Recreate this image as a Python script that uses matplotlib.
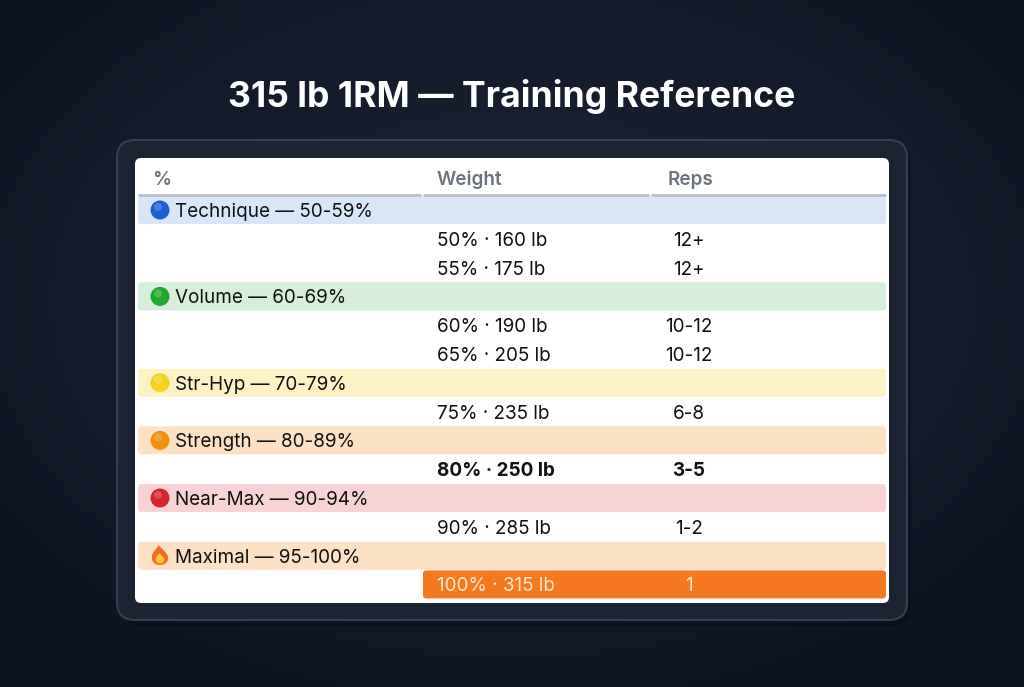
import numpy as np
import matplotlib
matplotlib.use("Agg")
import matplotlib.pyplot as plt
from matplotlib.patches import FancyBboxPatch, Circle, PathPatch
from matplotlib.path import Path

plt.rcParams['font.family'] = ['Inter', 'DejaVu Sans']

# ---- data ----
title = "315 lb 1RM \u2014 Training Reference"
headers = ["%", "Weight", "Reps"]

group_names = ["Technique", "Volume", "Str-Hyp", "Strength", "Near-Max", "Maximal"]
group_ranges = ["50-59%", "60-69%", "70-79%", "80-89%", "90-94%", "95-100%"]
group_icon = ["#1f5fd6", "#22a82b", "#f6d21c", "#f0900f", "#d8232a", "fire"]
group_band = ["#d8e6f8", "#d7efda", "#fdf2c6", "#fde1c4", "#f8d3d5", "#fde1c4"]

row_group = [0, 0, 1, 1, 2, 3, 4, 5]
row_pct = [50, 55, 60, 65, 75, 80, 90, 100]
row_lb = [160, 175, 190, 205, 235, 250, 285, 315]
row_reps = ["12+", "12+", "10-12", "10-12", "6-8", "3-5", "1-2", "1"]
bold_pct = 80
highlight_pct = 100

W, H = 1024, 687
fig = plt.figure(figsize=(W / 100, H / 100), dpi=100)
ax = fig.add_axes([0, 0, 1, 1])
ax.set_xlim(0, W)
ax.set_ylim(H, 0)
ax.axis('off')

# background: soft radial glow
yy, xx = np.mgrid[0:H, 0:W]
d = np.sqrt(((xx - 512) / 620.0) ** 2 + ((yy - 300) / 420.0) ** 2)
d = np.clip(d, 0, 1)
c_in = np.array([0x1e, 0x28, 0x3a]) / 255.0
c_out = np.array([0x0e, 0x14, 0x22]) / 255.0
bg = c_in[None, None, :] * (1 - d[..., None]) + c_out[None, None, :] * d[..., None]
ax.imshow(bg, extent=(0, W, H, 0), zorder=0, aspect='auto')

ax.text(512, 97, title, ha='center', va='center', color='white',
        fontsize=25.6, fontweight='bold', zorder=5)

# outer panel + shadow
ax.add_patch(FancyBboxPatch((121, 146), 790, 480, boxstyle="round,pad=0,rounding_size=20",
                            facecolor='#070b14', edgecolor='none', alpha=0.45, zorder=1))
ax.add_patch(FancyBboxPatch((117, 140), 790, 480, boxstyle="round,pad=0,rounding_size=18",
                            facecolor='#1c2433', edgecolor='#34404f', linewidth=1.5, zorder=2))
# white card
ax.add_patch(FancyBboxPatch((135, 158), 754, 445, boxstyle="round,pad=0,rounding_size=6",
                            facecolor='white', edgecolor='none', zorder=3))

fs = 13.6
col_x = [152, 437, 689]
head_y = 178
ax.text(col_x[0], head_y, headers[0], ha='left', va='center_baseline', color='#6b7280',
        fontsize=fs, fontweight='semibold', zorder=6)
ax.text(col_x[1], head_y, headers[1], ha='left', va='center_baseline', color='#6b7280',
        fontsize=fs, fontweight='semibold', zorder=6)
ax.text(668, head_y, headers[2], ha='left', va='center_baseline', color='#6b7280',
        fontsize=fs, fontweight='semibold', zorder=6)
for x0, x1 in [(138, 421), (423, 649), (651, 886)]:
    ax.plot([x0, x1], [194.5, 194.5], color='#b9bfc8', linewidth=2, zorder=6,
            solid_capstyle='butt')


def flame(cx, cy, s, color, z):
    v = [(0, 10), (-7, 10), (-10, 4), (-8, -1),
         (-7, -5), (-3, -7), (-2, -11),
         (2, -8), (6, -4), (8, 0),
         (10, 5), (6, 10), (0, 10)]
    v = [(cx + a * s, cy + b * s) for a, b in v]
    codes = [Path.MOVETO] + [Path.CURVE4] * 12
    ax.add_patch(PathPatch(Path(v, codes), facecolor=color, edgecolor='none', zorder=z))


step = 28.8
y0 = 210
line = 0
for g in range(len(group_names)):
    yc = y0 + line * step
    ax.add_patch(FancyBboxPatch((138, yc - 14), 748, 28, boxstyle="round,pad=0,rounding_size=3",
                                facecolor=group_band[g], edgecolor='none', zorder=4))
    if group_icon[g] == "fire":
        flame(160, yc, 0.95, '#f2701c', 7)
        flame(160, yc + 3, 0.5, '#fbc43a', 8)
    else:
        ax.add_patch(Circle((160, yc), 9.5, facecolor=group_icon[g], edgecolor='none', zorder=7))
        ax.add_patch(Circle((158, yc - 3), 4, facecolor='white', alpha=0.2,
                            edgecolor='none', zorder=8))
    ax.text(175, yc, f"{group_names[g]} \u2014 {group_ranges[g]}", ha='left',
            va='center_baseline', color='#111111', fontsize=fs, zorder=9)
    line += 1
    for i in range(len(row_pct)):
        if row_group[i] != g:
            continue
        yc = y0 + line * step
        color = '#111111'
        weight = 'normal'
        if row_pct[i] == highlight_pct:
            ax.add_patch(FancyBboxPatch((423, yc - 14), 463, 28,
                                        boxstyle="round,pad=0,rounding_size=3",
                                        facecolor='#f4791f', edgecolor='none', zorder=4))
            color = '#fde6d2'
        if row_pct[i] == bold_pct:
            weight = 'bold'
        ax.text(col_x[1], yc, f"{row_pct[i]}% \u00b7 {row_lb[i]} lb", ha='left',
                va='center_baseline', color=color, fontsize=fs, fontweight=weight, zorder=9)
        ax.text(col_x[2], yc, row_reps[i], ha='center', va='center_baseline',
                color=color, fontsize=fs, fontweight=weight, zorder=9)
        line += 1

fig.savefig("out.png", dpi=100)
